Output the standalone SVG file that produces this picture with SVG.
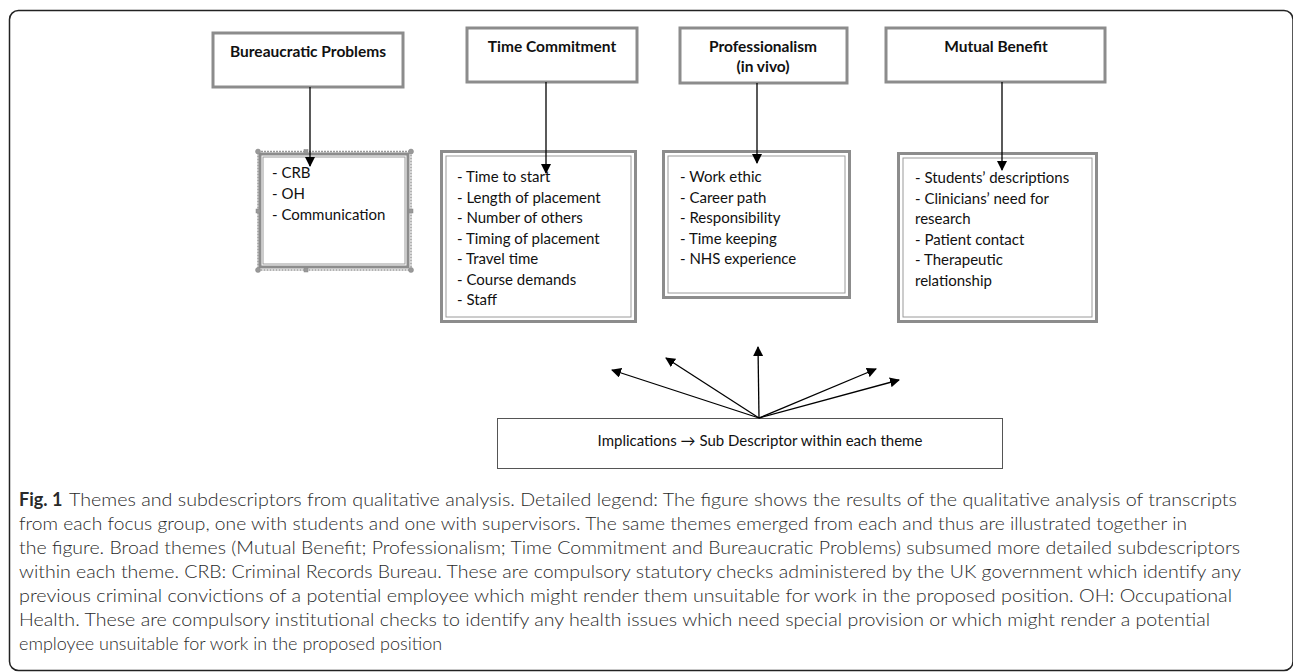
<svg xmlns="http://www.w3.org/2000/svg" width="1293" height="672" viewBox="0 0 1293 672">
<defs>
<marker id="ah" viewBox="0 0 10 10" refX="9" refY="5" markerWidth="10" markerHeight="10" markerUnits="userSpaceOnUse" orient="auto">
<path d="M0,0 L10,5 L0,10 z" fill="#000"/>
</marker>
<style>
.title{fill:#fff;stroke:#8c8c8c;stroke-width:3}
.outer{fill:#fff;stroke:#8c8c8c;stroke-width:3}
.inner{fill:none;stroke:#9a9a9a;stroke-width:1}
.tt{font-family:Lato,"Open Sans",sans-serif;font-weight:bold;font-size:15.5px;fill:#111;text-anchor:middle}
.it{font-family:Lato,"Open Sans",sans-serif;font-size:15px;fill:#111}
.cap{font-family:Lato,"Open Sans",sans-serif;font-weight:300;font-size:18px;fill:#2a2a2a}
.capb{font-family:Lato,"Open Sans",sans-serif;font-weight:bold;font-size:18px;fill:#2a2a2a}
.con{stroke:#000;stroke-width:1.3;fill:none;marker-end:url(#ah)}
.hd{fill:#999;stroke:#888;stroke-width:0.5}
</style>
</defs>
<rect width="1293" height="672" fill="#fff"/>
<rect x="9.5" y="10.5" width="1283.5" height="660" rx="9" fill="none" stroke="#222" stroke-width="1.5"/>

<g id="bureaucratic-title">
<rect class="title" x="213" y="33" width="190" height="54"/>
<text class="tt" x="308" y="57">Bureaucratic Problems</text>
</g>
<g id="time-title">
<rect class="title" x="467" y="28" width="170" height="54"/>
<text class="tt" x="552" y="52">Time Commitment</text>
</g>
<g id="prof-title">
<rect class="title" x="680" y="28" width="167" height="55"/>
<text class="tt" x="763" y="52">Professionalism</text>
<text class="tt" x="763" y="72">(in vivo)</text>
</g>
<g id="mutual-title">
<rect class="title" x="886" y="28" width="219" height="54"/>
<text class="tt" x="996" y="52">Mutual Benefit</text>
</g>

<g id="bureaucratic-sub">
<rect x="258" y="151.5" width="153" height="118.5" fill="#fff" stroke="#999" stroke-width="1.5" stroke-dasharray="2 1"/>
<rect class="outer" x="260" y="154" width="148" height="113" stroke-width="2"/>
<rect class="inner" x="263" y="157" width="142" height="107"/>
<circle class="hd" cx="258" cy="151.5" r="2.5"/>
<circle class="hd" cx="411" cy="151.5" r="2.5"/>
<circle class="hd" cx="258" cy="270" r="2.5"/>
<circle class="hd" cx="411" cy="270" r="2.5"/>
<rect class="hd" x="304" y="149.5" width="4" height="4"/>
<rect class="hd" x="304" y="268" width="4" height="4"/>
<rect class="hd" x="256" y="209" width="4" height="4"/>
<rect class="hd" x="409" y="209" width="4" height="4"/>
<text class="it" x="272" y="178">- CRB</text>
<text class="it" x="272" y="199">- OH</text>
<text class="it" x="272" y="220">- Communication</text>
</g>

<g id="time-sub">
<rect class="outer" x="441.5" y="151.5" width="194" height="170"/>
<rect class="inner" x="446" y="156" width="185" height="161"/>
<text class="it" x="457" y="182">- Time to start</text>
<text class="it" x="457" y="202.5">- Length of placement</text>
<text class="it" x="457" y="223">- Number of others</text>
<text class="it" x="457" y="243.5">- Timing of placement</text>
<text class="it" x="457" y="264">- Travel time</text>
<text class="it" x="457" y="284.5">- Course demands</text>
<text class="it" x="457" y="305">- Staff</text>
</g>

<g id="prof-sub">
<rect class="outer" x="663.5" y="151.5" width="186" height="146"/>
<rect class="inner" x="668" y="156" width="177" height="137"/>
<text class="it" x="680" y="182">- Work ethic</text>
<text class="it" x="680" y="202.5">- Career path</text>
<text class="it" x="680" y="223">- Responsibility</text>
<text class="it" x="680" y="243.5">- Time keeping</text>
<text class="it" x="680" y="264">- NHS experience</text>
</g>

<g id="mutual-sub">
<rect class="outer" x="898.5" y="153.5" width="198" height="168"/>
<rect class="inner" x="903" y="158" width="189" height="159"/>
<text class="it" x="915" y="183">- Students’ descriptions</text>
<text class="it" x="915" y="203.5">- Clinicians’ need for</text>
<text class="it" x="915" y="224">research</text>
<text class="it" x="915" y="244.5">- Patient contact</text>
<text class="it" x="915" y="265">- Therapeutic</text>
<text class="it" x="915" y="285.5">relationship</text>
</g>

<g id="implications">
<rect x="497.5" y="418.5" width="505" height="50" fill="#fff" stroke="#555" stroke-width="1"/>
<text class="it" x="760" y="446" text-anchor="middle" font-size="14.5">Implications → Sub Descriptor within each theme</text>
</g>

<g id="connectors">
<line class="con" x1="310" y1="87" x2="310" y2="166"/>
<line class="con" x1="546" y1="82" x2="546" y2="173"/>
<line class="con" x1="757" y1="83" x2="757" y2="163"/>
<line class="con" x1="1002" y1="82" x2="1002" y2="170"/>
<line class="con" x1="759" y1="418" x2="612" y2="370"/>
<line class="con" x1="759" y1="418" x2="666" y2="358"/>
<line class="con" x1="759" y1="418" x2="758" y2="347"/>
<line class="con" x1="759" y1="418" x2="876" y2="369"/>
<line class="con" x1="759" y1="418" x2="899" y2="380"/>
</g>

<g id="caption">
<text class="capb" x="19" y="506">Fig. 1</text>
<text class="cap" x="69" y="506" textLength="1168" lengthAdjust="spacingAndGlyphs">Themes and subdescriptors from qualitative analysis. Detailed legend: The figure shows the results of the qualitative analysis of transcripts</text>
<text class="cap" x="19" y="530" textLength="1168" lengthAdjust="spacingAndGlyphs">from each focus group, one with students and one with supervisors. The same themes emerged from each and thus are illustrated together in</text>
<text class="cap" x="19" y="554" textLength="1221" lengthAdjust="spacingAndGlyphs">the figure. Broad themes (Mutual Benefit; Professionalism; Time Commitment and Bureaucratic Problems) subsumed more detailed subdescriptors</text>
<text class="cap" x="19" y="578" textLength="1222" lengthAdjust="spacingAndGlyphs">within each theme. CRB: Criminal Records Bureau. These are compulsory statutory checks administered by the UK government which identify any</text>
<text class="cap" x="19" y="602" textLength="1213" lengthAdjust="spacingAndGlyphs">previous criminal convictions of a potential employee which might render them unsuitable for work in the proposed position. OH: Occupational</text>
<text class="cap" x="19" y="626" textLength="1191" lengthAdjust="spacingAndGlyphs">Health. These are compulsory institutional checks to identify any health issues which need special provision or which might render a potential</text>
<text class="cap" x="19" y="650">employee unsuitable for work in the proposed position</text>
</g>
</svg>
